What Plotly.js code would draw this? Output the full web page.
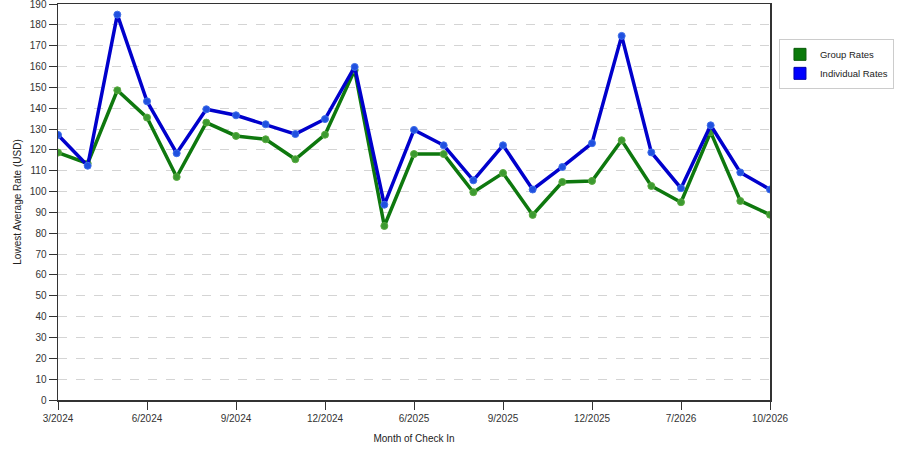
<!DOCTYPE html>
<html>
<head>
<meta charset="utf-8">
<script src="https://cdn.plot.ly/plotly-3.0.1.min.js"></script>
<style>
  html, body { margin: 0; padding: 0; background: #fff; }
  #myDiv { width: 900px; height: 450px; }
</style>
</head>
<body>
<div id="myDiv"></div>
<script>
// months of check in (only some are labelled on the axis)
var meses = [
  '3/2024', '4/2024', '5/2024', '6/2024', '7/2024', '8/2024', '9/2024', '10/2024', '11/2024', '12/2024',
  '1/2025', '3/2025', '6/2025', '7/2025', '8/2025', '9/2025', '10/2025', '11/2025', '12/2025',
  '2/2026', '4/2026', '7/2026', '8/2026', '9/2026', '10/2026'
];
var mesesRotulo = ['3/2024', '6/2024', '9/2024', '12/2024', '6/2025', '9/2025', '12/2025', '7/2026', '10/2026'];

var grupo = [
  118.7, 113.5, 148.6, 135.5, 107.0, 133.1, 126.7, 125.1, 115.5, 127.3,
  158.3, 83.5, 118.0, 118.0, 99.7, 108.9, 88.8, 104.6, 105.1,
  124.6, 102.7, 94.9, 128.5, 95.5, 88.9
];
var individual = [
  127.2, 112.4, 184.9, 143.3, 118.4, 139.5, 136.6, 132.3, 127.6, 134.8,
  159.8, 93.7, 129.6, 122.2, 105.4, 122.2, 101.0, 111.8, 123.2,
  174.7, 118.8, 101.6, 131.8, 109.2, 101.0
];

var nomes = ['Group Rates', 'Individual Rates'];

var fonte = { family: 'Liberation Sans, Arial, sans-serif', size: 10, color: '#333' };
var fonteLegenda = { family: 'Liberation Sans, Arial, sans-serif', size: 9.5, color: '#222' };

var trace1 = {
  x: meses,
  y: grupo,
  name: nomes[0],
  type: 'scatter',
  mode: 'lines+markers',
  line: { color: '#0e780e', width: 3.5 },
  marker: { color: '#3c9a30', size: 7, line: { color: '#5aaa40', width: 1 } },
  showlegend: false,
  hoverinfo: 'x+y'
};

var trace2 = {
  x: meses,
  y: individual,
  name: nomes[1],
  type: 'scatter',
  mode: 'lines+markers',
  line: { color: '#0000cc', width: 3.5 },
  marker: { color: '#2050e0', size: 7, line: { color: '#4070e8', width: 1 } },
  showlegend: false,
  hoverinfo: 'x+y'
};

// legend entries only (square swatches)
var leg1 = {
  x: [null], y: [null], name: nomes[0], type: 'scatter', mode: 'markers',
  marker: { symbol: 'square', size: 12, color: '#0a7a0a', line: { color: '#0a5a0a', width: 1 } }
};
var leg2 = {
  x: [null], y: [null], name: nomes[1], type: 'scatter', mode: 'markers',
  marker: { symbol: 'square', size: 12, color: '#0000ff', line: { color: '#0000aa', width: 1 } }
};

var data = [leg1, leg2, trace1, trace2];

var layout = {
  width: 900,
  height: 450,
  margin: { l: 58, r: 130, t: 4, b: 50 },
  paper_bgcolor: '#fff',
  plot_bgcolor: '#fff',
  font: fonte,
  showlegend: true,
  legend: {
    x: 1.0126, y: 0.912, xanchor: 'left', yanchor: 'top',
    bordercolor: '#cccccc', borderwidth: 1,
    font: fonteLegenda,
    tracegroupgap: 0
  },
  xaxis: {
    type: 'category',
    categoryorder: 'array',
    categoryarray: meses,
    range: [0, meses.length - 1],
    tickmode: 'array',
    tickvals: mesesRotulo,
    ticktext: mesesRotulo,
    ticks: 'outside',
    ticklen: 8,
    tickcolor: '#333',
    showline: true,
    linecolor: '#333',
    linewidth: 1.5,
    mirror: true,
    showgrid: false,
    zeroline: false,
    tickfont: fonte,
    ticklabeloverflow: 'allow',
    title: { text: 'Month of Check In', font: { family: fonte.family, size: 10, color: '#222' }, standoff: 12 }
  },
  yaxis: {
    range: [0, 190],
    tickmode: 'linear',
    tick0: 0,
    dtick: 10,
    ticks: 'outside',
    ticklen: 8,
    tickcolor: '#333',
    showline: true,
    linecolor: '#333',
    linewidth: 1.5,
    mirror: true,
    showgrid: true,
    gridcolor: '#d4d4d4',
    griddash: 'dash',
    zeroline: false,
    tickfont: fonte,
    ticklabeloverflow: 'allow',
    title: { text: 'Lowest Average Rate (USD)', font: { family: fonte.family, size: 10, color: '#222' }, standoff: 6 }
  }
};

Plotly.newPlot('myDiv', data, layout, { displayModeBar: false, staticPlot: true });
</script>
</body>
</html>
